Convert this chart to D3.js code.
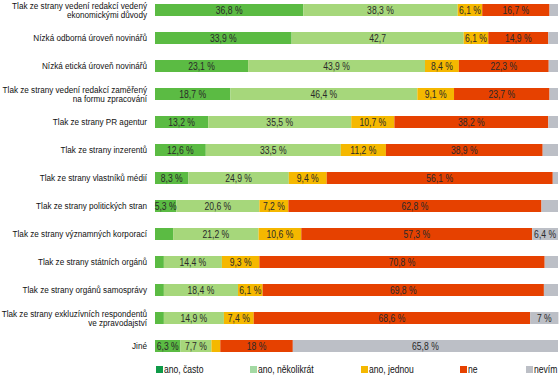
<!DOCTYPE html>
<html><head><meta charset="utf-8">
<script src="https://cdn.jsdelivr.net/npm/d3@7"></script>
<style>
html,body{margin:0;padding:0;background:#fff;}
svg{display:block;}
text{font-family:"Liberation Sans",Arial,sans-serif;}
</style></head>
<body><svg id="chart" width="560" height="376"></svg>
<script>
const categories = [
  ["Tlak ze strany vedení redakcí vedený","ekonomickými důvody"],
  ["Nízká odborná úroveň novinářů"],
  ["Nízká etická úroveň novinářů"],
  ["Tlak ze strany vedení redakcí  zaměřený","na formu zpracování"],
  ["Tlak ze strany PR agentur"],
  ["Tlak ze strany inzerentů"],
  ["Tlak ze strany vlastníků médií"],
  ["Tlak ze strany politických stran"],
  ["Tlak ze strany významných korporací"],
  ["Tlak ze strany státních orgánů"],
  ["Tlak ze strany orgánů samosprávy"],
  ["Tlak ze strany exkluzívních respondentů","ve zpravodajství"],
  ["Jiné"]
];
const seriesNames = ["ano, často","ano, několikrát","ano, jednou","ne","nevím"];
const anoCasto      = [36.8, 33.9, 23.1, 18.7, 13.2, 12.6, 8.3, 5.3, 4.5, 2.2, 2.2, 2.2, 6.3];
const anoNekolikrat = [38.3, 42.7, 43.9, 46.4, 35.5, 33.5, 24.9, 20.6, 21.2, 14.4, 18.4, 14.9, 7.7];
const anoJednou     = [6.1, 6.1, 8.4, 9.1, 10.7, 11.2, 9.4, 7.2, 10.6, 9.3, 6.1, 7.4, 2.2];
const ne            = [16.7, 14.9, 22.3, 23.7, 38.2, 38.9, 56.1, 62.8, 57.3, 70.8, 69.8, 68.6, 18];
const nevim         = [2.1, 2.4, 2.3, 2.1, 2.4, 3.8, 1.3, 4.1, 6.4, 3.3, 3.5, 7, 65.8];
// label text per cell ("" = no label)
const labels = [
  ["36,8 %","38,3 %","6,1 %","16,7 %",""],
  ["33,9 %","42,7","6,1 %","14,9 %",""],
  ["23,1 %","43,9 %","8,4 %","22,3 %",""],
  ["18,7 %","46,4 %","9,1 %","23,7 %",""],
  ["13,2 %","35,5 %","10,7 %","38,2 %",""],
  ["12,6 %","33,5 %","11,2 %","38,9 %",""],
  ["8,3 %","24,9 %","9,4 %","56,1 %",""],
  ["5,3 %","20,6 %","7,2 %","62,8 %",""],
  ["","21,2 %","10,6 %","57,3 %","6,4 %"],
  ["","14,4 %","9,3 %","70,8 %",""],
  ["","18,4 %","6,1 %","69,8 %",""],
  ["","14,9 %","7,4 %","68,6 %","7 %"],
  ["6,3 %","7,7 %","","18 %","65,8 %"]
];
const barColors = ["#5bbb43","#a6d77b","#f5b800","#e64100","#bcbfc6"];
const legendColors = ["#0f9a48","#a3d9a3","#f5b800","#e64100","#bcbfc6"];

const series = [anoCasto, anoNekolikrat, anoJednou, ne, nevim];
const rows = categories.map((c,i)=>{
  const o = {key:i};
  seriesNames.forEach((s,j)=>o[s]=series[j][i]);
  return o;
});
const stacked = d3.stack().keys(seriesNames)(rows);

const svg = d3.select("#chart");
const x = d3.scaleLinear().domain([0,100]).range([155,558]);
const y = d3.scaleBand().domain(d3.range(categories.length)).range([-4,360]).paddingInner(16/28).paddingOuter(8/28);

const g = svg.append("g");
stacked.forEach((layer,j)=>{
  g.selectAll(null).data(layer).enter().append("rect")
    .attr("x",d=>x(d[0])).attr("y",(d,i)=>y(i))
    .attr("width",d=>x(d[1])-x(d[0])).attr("height",y.bandwidth())
    .attr("fill",barColors[j]);
});
stacked.forEach((layer,j)=>{
  g.selectAll(null).data(layer).enter().append("text")
    .attr("transform",(d,i)=>`translate(${(x(d[0])+x(d[1]))/2},${y(i)+y.bandwidth()/2}) scale(0.86,1)`)
    .attr("dy","0.36em").attr("text-anchor","middle")
    .attr("font-size",10).attr("fill","#2a2a2a")
    .text((d,i)=>labels[i][j]);
});

// category labels (condensed to mimic a narrow face)
const cl = svg.append("g");
const probe = cl.append("text").attr("font-size",9.5).text(categories[0][0]);
const sx = 135 / probe.node().getComputedTextLength();
probe.remove();
categories.forEach((lines,i)=>{
  const cy = y(i)+y.bandwidth()/2;
  const t = cl.append("text").attr("text-anchor","end").attr("font-size",9.5).attr("fill","#111")
    .attr("transform",`translate(147,${cy}) scale(${sx},1)`);
  lines.forEach((ln,k)=>{
    t.append("tspan").attr("x",0)
      .attr("y", (k - (lines.length-1)/2)*9.5)
      .attr("dy","0.36em").text(ln);
  });
});

// legend
const legendX = [156,250,361,460,526];
const lg = svg.append("g");
seriesNames.forEach((s,j)=>{
  lg.append("rect").attr("x",legendX[j]).attr("y",366).attr("width",7).attr("height",7).attr("fill",legendColors[j]);
  lg.append("text").attr("transform",`translate(${legendX[j]+8},369.5) scale(${sx},1)`).attr("dy","0.36em")
    .attr("font-size",10).attr("fill","#111").text(s);
});
</script></body></html>
